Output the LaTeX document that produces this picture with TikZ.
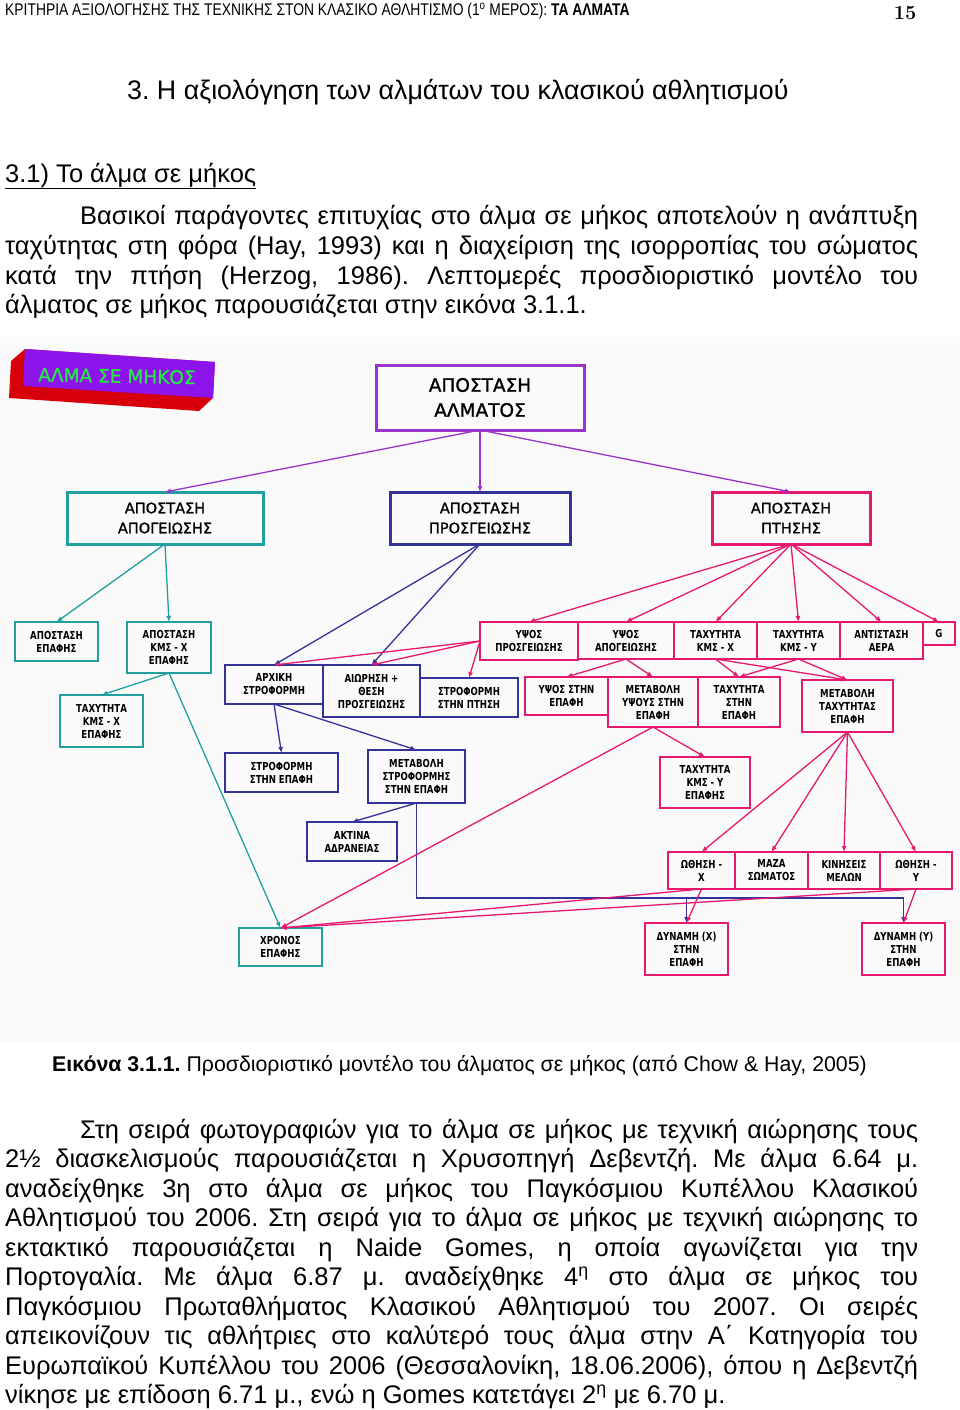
\documentclass[tikz,border=0pt]{standalone}
\usepackage{fontspec}
\newfontfamily\arialfont{Liberation Sans}
\newfontfamily\narrowfont[FakeStretch=0.82]{Liberation Sans}
\newfontfamily\chartfont[FakeBold=1.2]{DejaVu Sans}
\newfontfamily\chartbold[FakeStretch=0.78]{DejaVu Sans}
\usetikzlibrary{arrows.meta}
\frenchspacing

\definecolor{lilac}{RGB}{153,51,204}
\definecolor{sea}{RGB}{32,160,160}
\definecolor{navyline}{RGB}{51,51,153}
\definecolor{rosered}{RGB}{230,25,110}
\definecolor{wordpurple}{RGB}{140,20,235}
\definecolor{wordred}{RGB}{215,0,10}
\definecolor{wordgreen}{RGB}{40,230,70}

\begin{document}
\begin{tikzpicture}[x=1pt, y=-1pt,
  body/.style={anchor=base west, inner sep=0pt, font=\arialfont\fontsize{25.5}{29}\selectfont},
  cell/.style={draw, line width=2.6pt, anchor=north west, inner sep=0pt, outer sep=0pt, align=center, font=\chartbold\bfseries\fontsize{11}{13}\selectfont},
  head/.style={cell, line width=3pt, font=\chartfont\fontsize{14.5}{20}\selectfont},
  link/.style={line width=1.3pt, -{Latex[length=6pt,width=5pt]}}]
\fill[white] (0,0) rectangle (960,1410);
\useasboundingbox (0,0) rectangle (960,1410);
\fill[black!2] (0,337) rectangle (960,1042);

% page text
\node[body, font=\narrowfont\fontsize{16.9}{18}\selectfont] (header) at (5,16) {ΚΡΙΤΗΡΙΑ ΑΞΙΟΛΟΓΗΣΗΣ ΤΗΣ ΤΕΧΝΙΚΗΣ ΣΤΟΝ ΚΛΑΣΙΚΟ ΑΘΛΗΤΙΣΜΟ (1\textsuperscript{ο} ΜΕΡΟΣ): \textbf{ΤΑ ΑΛΜΑΤΑ}};
\node[anchor=base, inner sep=0pt, font=\bfseries\fontsize{20}{20}\selectfont] (pagenum) at (905,20) {15};
\node[body, font=\arialfont\fontsize{26.8}{30}\selectfont] (title) at (127,100) {3. Η αξιολόγηση των αλμάτων του κλασικού αθλητισμού};
\node[body] (sect) at (5,182) {\underline{3.1) Το άλμα σε μήκος}};
\node[body] (p1a) at (80,224) {\makebox[838pt][s]{Βασικοί παράγοντες επιτυχίας στο άλμα σε μήκος αποτελούν η ανάπτυξη}};
\node[body] (p1b) at (5,254) {\makebox[913pt][s]{ταχύτητας στη φόρα (Hay, 1993) και η διαχείριση της ισορροπίας του σώματος}};
\node[body] (p1c) at (5,284) {\makebox[913pt][s]{κατά την πτήση (Herzog, 1986). Λεπτομερές προσδιοριστικό μοντέλο του}};
\node[body] (p1d) at (5,313) {άλματος σε μήκος παρουσιάζεται στην εικόνα 3.1.1.};

% title block
\fill[wordred] (25,349) -- (215,362) -- (213,398) -- (199,411) -- (9,398) -- (11,361) -- cycle;
\fill[wordpurple] (25,349) -- (215,362) -- (213,398) -- (23,386) -- cycle;
\node[rotate=-1, inner sep=0pt, text=wordgreen, font=\chartfont\fontsize{18.5}{20}\selectfont] (word) at (117,376) {ΑΛΜΑ ΣΕ ΜΗΚΟΣ};

% boxes
\node[head, draw=lilac, minimum width=208, minimum height=65, font=\chartfont\fontsize{18.5}{25}\selectfont] (jump) at (376,365) {ΑΠΟΣΤΑΣΗ\\ΑΛΜΑΤΟΣ};
\node[head, draw=sea, minimum width=196, minimum height=52] (takeoff) at (67,492) {ΑΠΟΣΤΑΣΗ\\ΑΠΟΓΕΙΩΣΗΣ};
\node[head, draw=navyline, minimum width=180, minimum height=52] (landing) at (390,492) {ΑΠΟΣΤΑΣΗ\\ΠΡΟΣΓΕΙΩΣΗΣ};
\node[head, draw=rosered, minimum width=158, minimum height=52] (flight) at (712,492) {ΑΠΟΣΤΑΣΗ\\ΠΤΗΣΗΣ};

\node[cell, draw=sea, minimum width=83, minimum height=39] (contact) at (15,622) {ΑΠΟΣΤΑΣΗ\\ΕΠΑΦΗΣ};
\node[cell, draw=sea, minimum width=84, minimum height=51] (comx) at (127,622) {ΑΠΟΣΤΑΣΗ\\ΚΜΣ - Χ\\ΕΠΑΦΗΣ};
\node[cell, draw=sea, minimum width=83, minimum height=52] (velx) at (60,695) {ΤΑΧΥΤΗΤΑ\\ΚΜΣ - Χ\\ΕΠΑΦΗΣ};
\node[cell, draw=sea, minimum width=83, minimum height=38] (time) at (239,928) {ΧΡΟΝΟΣ\\ΕΠΑΦΗΣ};

\node[cell, draw=navyline, minimum width=98, minimum height=39] (initmom) at (225,665) {ΑΡΧΙΚΗ\\ΣΤΡΟΦΟΡΜΗ};
\node[cell, draw=navyline, minimum width=97, minimum height=52] (swing) at (323,665) {ΑΙΩΡΗΣΗ +\\ΘΕΣΗ\\ΠΡΟΣΓΕΙΩΣΗΣ};
\node[cell, draw=navyline, minimum width=98, minimum height=39] (flightmom) at (420,678) {ΣΤΡΟΦΟΡΜΗ\\ΣΤΗΝ ΠΤΗΣΗ};
\node[cell, draw=navyline, minimum width=113, minimum height=39] (contmom) at (225,753) {ΣΤΡΟΦΟΡΜΗ\\ΣΤΗΝ ΕΠΑΦΗ};
\node[cell, draw=navyline, minimum width=97, minimum height=53] (dmom) at (368,750) {ΜΕΤΑΒΟΛΗ\\ΣΤΡΟΦΟΡΜΗΣ\\ΣΤΗΝ ΕΠΑΦΗ};
\node[cell, draw=navyline, minimum width=90, minimum height=39] (radius) at (307,822) {ΑΚΤΙΝΑ\\ΑΔΡΑΝΕΙΑΣ};

\node[cell, draw=rosered, minimum width=98, minimum height=38] (hland) at (480,622) {ΥΨΟΣ\\ΠΡΟΣΓΕΙΩΣΗΣ};
\node[cell, draw=rosered, minimum width=96, minimum height=37] (htake) at (578,622) {ΥΨΟΣ\\ΑΠΟΓΕΙΩΣΗΣ};
\node[cell, draw=rosered, minimum width=83, minimum height=37] (vx) at (674,622) {ΤΑΧΥΤΗΤΑ\\ΚΜΣ - Χ};
\node[cell, draw=rosered, minimum width=83, minimum height=37] (vy) at (757,622) {ΤΑΧΥΤΗΤΑ\\ΚΜΣ - Υ};
\node[cell, draw=rosered, minimum width=83, minimum height=37] (drag) at (840,622) {ΑΝΤΙΣΤΑΣΗ\\ΑΕΡΑ};
\node[cell, draw=rosered, minimum width=32, minimum height=23] (grav) at (923,622) {G};
\node[cell, draw=rosered, minimum width=83, minimum height=38] (hcont) at (525,677) {ΥΨΟΣ ΣΤΗΝ\\ΕΠΑΦΗ};
\node[cell, draw=rosered, minimum width=90, minimum height=50] (dh) at (608,677) {ΜΕΤΑΒΟΛΗ\\ΥΨΟΥΣ ΣΤΗΝ\\ΕΠΑΦΗ};
\node[cell, draw=rosered, minimum width=82, minimum height=50] (vcont) at (698,677) {ΤΑΧΥΤΗΤΑ\\ΣΤΗΝ\\ΕΠΑΦΗ};
\node[cell, draw=rosered, minimum width=91, minimum height=52] (dv) at (802,680) {ΜΕΤΑΒΟΛΗ\\ΤΑΧΥΤΗΤΑΣ\\ΕΠΑΦΗ};
\node[cell, draw=rosered, minimum width=90, minimum height=51] (vycont) at (660,757) {ΤΑΧΥΤΗΤΑ\\ΚΜΣ - Υ\\ΕΠΑΦΗΣ};
\node[cell, draw=rosered, minimum width=67, minimum height=37] (pushx) at (668,852) {ΩΘΗΣΗ -\\Χ};
\node[cell, draw=rosered, minimum width=73, minimum height=37] (mass) at (735,852) {ΜΑΖΑ\\ΣΩΜΑΤΟΣ};
\node[cell, draw=rosered, minimum width=72, minimum height=37] (limbs) at (808,852) {ΚΙΝΗΣΕΙΣ\\ΜΕΛΩΝ};
\node[cell, draw=rosered, minimum width=72, minimum height=37] (pushy) at (880,852) {ΩΘΗΣΗ -\\Υ};
\node[cell, draw=rosered, minimum width=83, minimum height=52] (forcex) at (645,923) {ΔΥΝΑΜΗ (Χ)\\ΣΤΗΝ\\ΕΠΑΦΗ};
\node[cell, draw=rosered, minimum width=83, minimum height=52] (forcey) at (862,923) {ΔΥΝΑΜΗ (Υ)\\ΣΤΗΝ\\ΕΠΑΦΗ};

% connectors
\foreach \n in {takeoff,landing,flight} \draw[link, lilac] (jump.south) -- (\n.north);
\draw[link, sea] (takeoff.south) -- (contact.north);
\draw[link, sea] (takeoff.south) -- (comx.north);
\draw[link, sea] (comx.south) -- (velx.north);
\draw[link, sea] (comx.south) -- (time.north);
\draw[link, navyline] (landing.south) -- (initmom.north);
\draw[link, navyline] (landing.south) -- (swing.north);
\draw[link, navyline] (initmom.south) -- (contmom.north);
\draw[link, navyline] (initmom.south) -- (dmom.north);
\draw[link, navyline] (dmom.south) -- (radius.north);
\coordinate (rail) at (0,898);
\draw[link, navyline] (dmom.south) |- (forcey.north |- rail) -- (forcey.north);
\draw[link, navyline] (forcex.north |- rail) -- (forcex.north);
\foreach \n in {hland,htake,vx,vy,drag,grav} \draw[link, rosered] (flight.south) -- (\n.north);
\foreach \n in {initmom,swing,flightmom} \draw[link, rosered] (hland.west) -- (\n.north);
\foreach \n in {hcont,dh} \draw[link, rosered] (htake.south) -- (\n.north);
\foreach \n in {vcont,dv} \draw[link, rosered] (vx.south) -- (\n.north);
\foreach \n in {vcont,dv} \draw[link, rosered] (vy.south) -- (\n.north);
\draw[link, rosered] (dh.south) -- (vycont.north);
\draw[link, rosered] (dh.south) -- (time.north);
\foreach \n in {pushx,mass,limbs,pushy} \draw[link, rosered] (dv.south) -- (\n.north);
\draw[link, rosered] (pushx.south) -- (forcex.north);
\draw[link, rosered] (pushy.south) -- (forcey.north);
\draw[link, rosered] (pushx.south) -- (time.north);
\draw[link, rosered] (pushy.south) -- (time.north);

% caption and second paragraph
\node[body, font=\arialfont\fontsize{21.3}{24}\selectfont] (caption) at (52,1071) {\textbf{Εικόνα 3.1.1.} Προσδιοριστικό μοντέλο του άλματος σε μήκος (από Chow \& Hay, 2005)};
\node[body] (p2a) at (80,1138) {\makebox[838pt][s]{Στη σειρά φωτογραφιών για το άλμα σε μήκος με τεχνική αιώρησης τους}};
\node[body] (p2b) at (5,1167.5) {\makebox[913pt][s]{2½ διασκελισμούς παρουσιάζεται η Χρυσοπηγή Δεβεντζή. Με άλμα 6.64 μ.}};
\node[body] (p2c) at (5,1197) {\makebox[913pt][s]{αναδείχθηκε 3η στο άλμα σε μήκος του Παγκόσμιου Κυπέλλου Κλασικού}};
\node[body] (p2d) at (5,1226.5) {\makebox[913pt][s]{Αθλητισμού του 2006. Στη σειρά για το άλμα σε μήκος με τεχνική αιώρησης το}};
\node[body] (p2e) at (5,1256) {\makebox[913pt][s]{εκτακτικό παρουσιάζεται η Naide Gomes, η οποία αγωνίζεται για την}};
\node[body] (p2f) at (5,1285.5) {\makebox[913pt][s]{Πορτογαλία. Με άλμα 6.87 μ. αναδείχθηκε 4\textsuperscript{η} στο άλμα σε μήκος του}};
\node[body] (p2g) at (5,1315) {\makebox[913pt][s]{Παγκόσμιου Πρωταθλήματος Κλασικού Αθλητισμού του 2007. Οι σειρές}};
\node[body] (p2h) at (5,1344.5) {\makebox[913pt][s]{απεικονίζουν τις αθλήτριες στο καλύτερό τους άλμα στην Α΄ Κατηγορία του}};
\node[body] (p2i) at (5,1374) {\makebox[913pt][s]{Ευρωπαϊκού Κυπέλλου του 2006 (Θεσσαλονίκη, 18.06.2006), όπου η Δεβεντζή}};
\node[body] (p2j) at (5,1403.5) {νίκησε με επίδοση 6.71 μ., ενώ η Gomes κατετάγει 2\textsuperscript{η} με 6.70 μ.};
\end{tikzpicture}
\end{document}
